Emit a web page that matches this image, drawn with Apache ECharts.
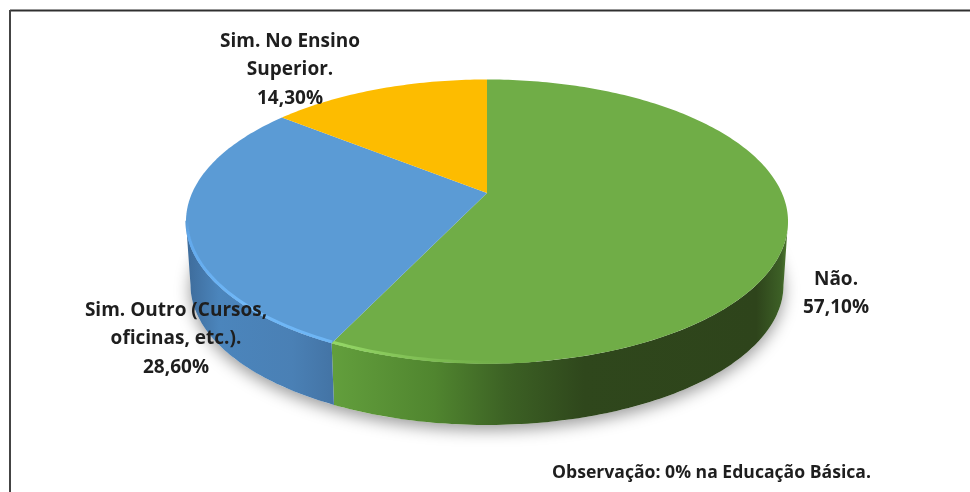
<!DOCTYPE html>
<html>
<head>
<meta charset="utf-8">
<style>
  html, body { margin: 0; padding: 0; background: #fff; }
  #chart { width: 970px; height: 492px; }
</style>
<script src="https://cdn.jsdelivr.net/npm/echarts@6/dist/echarts.min.js"></script>
</head>
<body>
<div id="chart"></div>
<script>
// Answer categories and their shares, in percent, clockwise from the top
const categories = ['Não.', 'Sim. Outro (Cursos,\noficinas, etc.).', 'Sim. No Ensino\nSuperior.'];
const shares = [57.1, 28.6, 14.3];
const footnote = 'Observação: 0% na Educação Básica.';

const LabelFont = 'bold 19px "Open Sans", Lato, sans-serif';
const labelCentres = [[836, 293.5], [176, 339], [290, 70]];
const topColours = ['#70AD47', '#5B9BD5', '#FDBC00'];

// Tilted disc: unit-circle points are pushed through a perspective projection
const disc = { cx: 487, apexY: 193, a: 294.9, b: 136.3, k: 0.2007 };
const floor = { apexY: 257, scale: 0.985 };
const total = shares.reduce((s, v) => s + v, 0);
const STEP = Math.PI / 180;

function project(theta, apexY, scale) {
  const u = Math.sin(theta), v = -Math.cos(theta), d = 1 - disc.k * v;
  return [disc.cx + scale * disc.a * u / d, apexY + scale * disc.b * v / d];
}
const topPoint = t => project(t, disc.apexY, 1);
const rimPoint = t => project(t, disc.apexY - 0.8, 0.997);
const floorPoint = t => project(t, floor.apexY, floor.scale);

function sweep(from, to, fn) {
  const pts = [];
  const n = Math.max(1, Math.ceil((to - from) / STEP));
  for (let i = 0; i <= n; i++) pts.push(fn(from + (to - from) * i / n));
  return pts;
}

// Angular range of the rim that faces the viewer
const FRONT_FROM = Math.acos(-disc.k);
const FRONT_TO = 2 * Math.PI - FRONT_FROM;

function sliceAngles(index) {
  let before = 0;
  for (let i = 0; i < index; i++) before += shares[i];
  return [before / total * 2 * Math.PI, (before + shares[index]) / total * 2 * Math.PI];
}

const grad = (x0, y0, x1, y1, stops) => new echarts.graphic.LinearGradient(x0, y0, x1, y1,
  stops.map(([offset, color]) => ({ offset, color })), true);

const sideFills = [
  grad(335, 0, 788, 0, [[0, '#629E3C'], [0.22, '#50852F'], [0.38, '#3C6124'], [0.55, '#2F471C'],
    [0.93, '#2E441B'], [0.985, '#3D6026'], [1, '#507C32']]),
  grad(190, 0, 336, 0, [[0, '#3F6E9E'], [0.2, '#4B85BC'], [0.7, '#4A80B5'], [1, '#4373A4']]),
  '#BF9000'
];
const rimStrokes = [
  grad(336, 0, 520, 0, [[0, '#94D766'], [0.35, '#84C458'], [0.8, '#73B04A'], [1, '#70AD47']]),
  grad(186, 222, 336, 342, [[0, '#5B9BD5'], [0.06, '#62A9EC'], [0.5, '#70B8F8'], [1, '#6DB5F4']]),
  '#FDBC00'
];

function renderSlice(params, api) {
  const i = params.dataIndex;
  const [start, end] = sliceAngles(i);
  const children = [];

  // Outer wall, only where the slice faces the viewer
  const from = Math.max(start, FRONT_FROM), to = Math.min(end, FRONT_TO);
  const arc = sweep(start, end, topPoint);
  if (to > from) {
    const upper = sweep(from, to, topPoint);
    const lower = sweep(from, to, floorPoint).reverse();
    children.push({
      type: 'polygon', shape: { points: upper.concat(lower) },
      style: { fill: sideFills[i] }
    });
  }
  // Top face
  children.push({
    type: 'polygon', shape: { points: [[disc.cx, disc.apexY]].concat(arc) },
    style: { fill: topColours[i] }
  });
  // Bevel highlight along the front rim; on the green slice it only covers the part nearest the blue
  if (to > from) {
    const rimStart = i === 0 ? end - (end - from) * 0.32 : from;
    children.push({
      type: 'polyline', shape: { points: sweep(rimStart, to, rimPoint) },
      style: { stroke: rimStrokes[i], lineWidth: 3, fill: null }
    });
  }
  return { type: 'group', children };
}

// Soft drop shadow cast by the whole disc
function renderShadow() {
  return {
    type: 'polygon',
    shape: { points: sweep(0, 2 * Math.PI, floorPoint) },
    style: { fill: '#fff', shadowBlur: 16, shadowColor: 'rgba(0,0,0,0.4)', shadowOffsetY: 5 }
  };
}

function formatShare(v) {
  return v.toFixed(2).replace('.', ',') + '%';
}

function renderLabel(params, api) {
  const i = params.dataIndex;
  return {
    type: 'text',
    style: {
      x: labelCentres[i][0], y: labelCentres[i][1],
      text: categories[i] + '\n' + formatShare(api.value(0)),
      font: LabelFont, fill: '#1E1E1E', lineHeight: 28.5,
      textAlign: 'center', textVerticalAlign: 'middle'
    }
  };
}

const chart = echarts.init(document.getElementById('chart'), null, { renderer: 'canvas' });
chart.setOption({
  animation: false,
  backgroundColor: '#fff',
  series: [
    { type: 'custom', name: 'sombra', coordinateSystem: 'none', z: 1, silent: true, data: [total], renderItem: renderShadow },
    { type: 'custom', name: 'fatias', coordinateSystem: 'none', z: 2, silent: true, data: shares, renderItem: renderSlice },
    { type: 'custom', name: 'rótulos', coordinateSystem: 'none', z: 3, silent: true, data: shares, renderItem: renderLabel }
  ],
  graphic: [
    { type: 'line', shape: { x1: 10, y1: 10.5, x2: 970, y2: 10.5 }, style: { stroke: '#303030', lineWidth: 2 }, z: 5 },
    { type: 'line', shape: { x1: 10, y1: 10, x2: 10, y2: 492 }, style: { stroke: '#444', lineWidth: 2 }, z: 5 },
    { type: 'text', x: 711.5, y: 473, z: 5, style: { text: footnote, font: 'bold 17.6px "Open Sans", Lato, sans-serif', fill: '#1E1E1E', textAlign: 'center', textVerticalAlign: 'middle' } }
  ]
});
</script>
</body>
</html>
